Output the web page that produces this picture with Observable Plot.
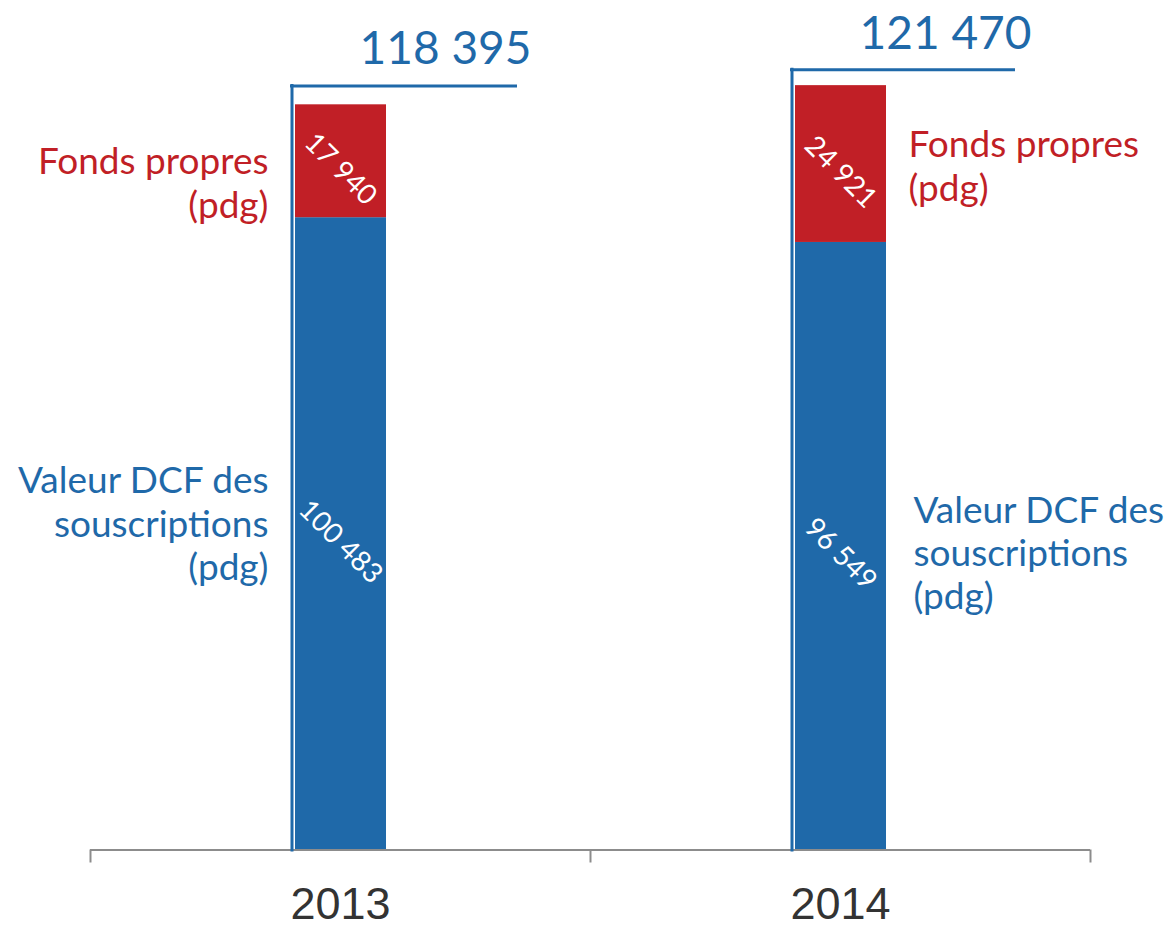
<!DOCTYPE html>
<html><head><meta charset="utf-8">
<script src="https://cdn.jsdelivr.net/npm/d3@7"></script>
<script src="https://cdn.jsdelivr.net/npm/@observablehq/plot@0.6"></script>
<style>html,body{margin:0;padding:0;background:#fff;} svg{display:block}</style>
</head><body><div id="chart"></div>
<script>
// ---- data ----
const years = ["2013", "2014"];
const seriesNames = ["Valeur DCF des souscriptions (pdg)", "Fonds propres (pdg)"];
const seriesLabelLines = ["Valeur DCF des\nsouscriptions\n(pdg)", "Fonds propres\n(pdg)"];
const valeurDCF = [100483, 96549];
const fondsPropres = [17940, 24921];
const totals = [118395, 121470];
const seriesColors = ["#1f69a9", "#c11f26"];

const data = years.flatMap((year, i) => [
  {year, series: seriesNames[0], label: seriesLabelLines[0], value: valeurDCF[i]},
  {year, series: seriesNames[1], label: seriesLabelLines[1], value: fondsPropres[i]}
]);
const totalData = years.map((year, i) => ({year, total: totals[i]}));

// ---- styling ----
const fr = d3.formatLocale({decimal: ",", thousands: " ", grouping: [3], currency: ["", " €"]});
const fmt = fr.format(",d");
const AV = "Lato, 'Open Sans', sans-serif";
const BLUE = seriesColors[0];
const AXIS = "#8c8c8c";
const bracketLift = {"2013": 19, "2014": 16};
const bracketRight = {"2013": 73, "2014": 75};
const totalLift = {"2013": 41, "2014": 37};
const sideLabel = [
  {year: "2013", s: 1, anchor: "end", dx: -72, dy: 21},
  {year: "2013", s: 0, anchor: "end", dx: -72, dy: -11},
  {year: "2014", s: 1, anchor: "start", dx: 68, dy: 1},
  {year: "2014", s: 0, anchor: "start", dx: 73, dy: 6}
];

const marks = [
  Plot.barY(data, {x: "year", y: "value", fill: "series", insetLeft: 205, insetRight: 204}),
  Plot.ruleY([0], {stroke: AXIS, strokeWidth: 2}),
  Plot.axisX({tickSize: 13, tickFormat: () => "", label: null, dx: -250, color: AXIS, strokeWidth: 2}),
  Plot.axisX([years[years.length - 1]], {tickSize: 13, tickFormat: () => "", label: null, dx: 250, color: AXIS, strokeWidth: 2}),
  Plot.axisX({tickSize: 0, tickPadding: 37, label: null, fontSize: 45, fontFamily: "'Liberation Sans', Arial, sans-serif", color: "#333"}),
  // value labels inside the bars
  Plot.text(data, Plot.stackY({x: "year", y: "value", z: "series", text: d => fmt(d.value),
    rotate: 45, fill: "white", fontSize: 28, fontFamily: AV, dy: 8})),
  // series labels beside the bars
  ...sideLabel.map(o => Plot.text(data, Plot.stackY({x: "year", y: "value", z: "series",
    text: d => (d.year === o.year && d.series === seriesNames[o.s]) ? d.label : null,
    fill: "series", textAnchor: o.anchor, dx: o.dx, dy: o.dy, fontSize: 37, lineHeight: 1.17, fontFamily: AV})))
];

// total brackets and labels
for (const yr of years) {
  const tot = totalData.filter(d => d.year === yr);
  marks.push(
    Plot.ruleY(tot, {y: "total", x1: "year", x2: "year", dy: -bracketLift[yr], insetLeft: 200, insetRight: bracketRight[yr], stroke: BLUE, strokeWidth: 3}),
    Plot.ruleX(tot, {x: "year", y1: "total", y2: 0, dx: -48.5, insetTop: -(bracketLift[yr] + 1.5), insetBottom: -2, stroke: BLUE, strokeWidth: 3}),
    Plot.text(tot, {x: "year", y: "total", text: d => fmt(d.total), dx: 105, dy: -totalLift[yr], lineAnchor: "bottom", fontSize: 46, fontFamily: AV, fill: BLUE})
  );
}

const chart = Plot.plot({
  width: 1174, height: 927,
  marginTop: 0, marginBottom: 77.5, marginLeft: 90, marginRight: 84,
  style: {fontFamily: AV, background: "white", overflow: "visible"},
  x: {type: "band", domain: years, padding: 0},
  y: {domain: [0, 135000], axis: null},
  color: {domain: seriesNames, range: seriesColors},
  marks
});
document.getElementById("chart").append(chart);
</script>
</body></html>
